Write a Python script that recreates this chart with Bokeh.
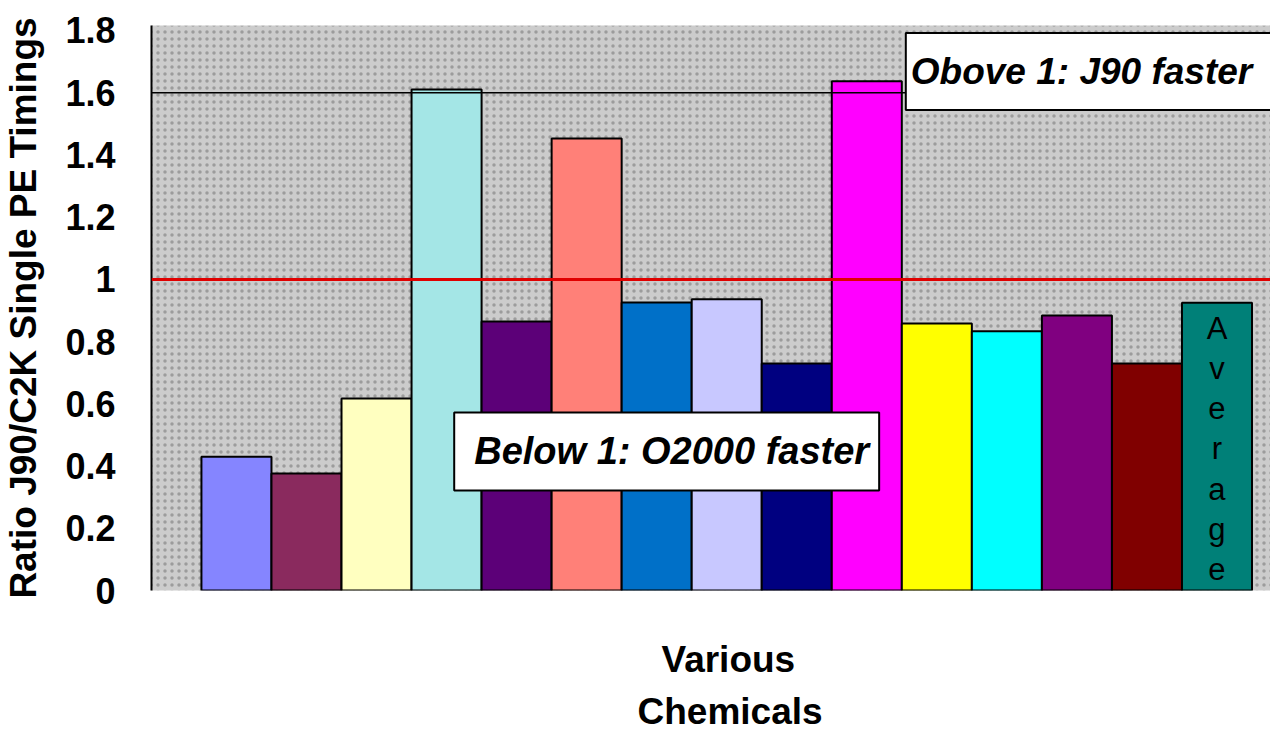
from bokeh.plotting import figure
from bokeh.models import (ColumnDataSource, Span, Label, FixedTicker, Range1d, BoxAnnotation, Title)
from bokeh.core.properties import value
from bokeh.embed import file_html
from bokeh.resources import INLINE

# ---- data ----
chemicals = ["Chemical 1", "Chemical 2", "Chemical 3", "Chemical 4", "Chemical 5",
             "Chemical 6", "Chemical 7", "Chemical 8", "Chemical 9", "Chemical 10",
             "Chemical 11", "Chemical 12", "Chemical 13", "Chemical 14", "Average"]
ratios = [0.43, 0.376, 0.617, 1.61, 0.865, 1.453, 0.926, 0.936, 0.73, 1.637,
          0.858, 0.833, 0.884, 0.73, 0.925]
bar_colors = ["#8585ff", "#8a2a5e", "#ffffc0", "#a4e6e6", "#5c0078", "#ff8078",
              "#0070c8", "#c8c8ff", "#000080", "#ff00ff", "#ffff00", "#00ffff",
              "#800080", "#800000", "#008078"]
y_ticks = [0, 0.2, 0.4, 0.6, 0.8, 1.0, 1.2, 1.4, 1.6, 1.8]
y_tick_labels = ["0", "0.2", "0.4", "0.6", "0.8", "1", "1.2", "1.4", "1.6", "1.8"]
threshold = 1.0
upper_line = 1.6
avg_label = "\n".join("Average")
x_title_lines = ["Various", "Chemicals"]

FONT = "Liberation Sans"

idx = list(range(len(chemicals)))
src = ColumnDataSource(dict(
    x=[i + 0.5 for i in idx],
    top=ratios,
    color=bar_colors,
    name=chemicals,
))

p = figure(width=1270, height=734, output_backend="svg", toolbar_location=None,
           x_range=Range1d(-0.713, 15.264), y_range=Range1d(0, 1.816),
           min_border_left=150, min_border_right=0, min_border_top=25,
           min_border_bottom=144)

p.background_fill_color = "#cccccc"
p.border_fill_color = "white"
p.outline_line_color = None
p.grid.visible = False

# textured background
bg = BoxAnnotation(fill_alpha=0, hatch_pattern="dot", hatch_color="#9c9c9c",
                   hatch_scale=7, hatch_weight=1.2, line_color=None, level="underlay")
p.add_layout(bg)

p.vbar(x="x", top="top", width=1.0, bottom=0, source=src,
       fill_color="color", line_color="black", line_width=2)

# vertical "Average" text in the last bar
p.text(x=[idx[-1] + 0.5], y=[ratios[-1]], text=[avg_label],
       text_align="center", text_baseline="top", y_offset=8,
       text_font=value(FONT), text_font_size="31px", text_color="black",
       text_line_height=1.15)

p.add_layout(Span(location=upper_line, dimension="width", line_color="black", line_width=1.5))
p.add_layout(Span(location=threshold, dimension="width", line_color="#e00000", line_width=3))

# padding given as (left, right, top, bottom)
above = Label(x=10.057, y=1.668, text="Obove 1: J90 faster", text_align="left",
              text_baseline="middle", text_font=FONT, text_font_size="37px",
              text_font_style="bold italic", text_color="black",
              background_fill_color="white", border_line_color="black",
              border_line_width=2, padding=(5, 40, 18, 18))
below = Label(x=3.609, y=0.447, text="Below 1: O2000 faster", text_align="left",
              text_baseline="middle", text_font=FONT, text_font_size="38px",
              text_font_style="bold italic", text_color="black",
              background_fill_color="white", border_line_color="black",
              border_line_width=2, padding=(20, 10, 18, 18))
p.add_layout(above)
p.add_layout(below)

# y axis
ya = p.yaxis[0]
ya.ticker = FixedTicker(ticks=y_ticks)
ya.major_label_overrides = {t: l for t, l in zip(y_ticks, y_tick_labels)}
ya.major_tick_line_color = None
ya.minor_tick_line_color = None
ya.major_label_standoff = 30
ya.axis_line_width = 2
ya.axis_line_color = "black"
ya.major_label_text_font = FONT
ya.major_label_text_font_size = "36px"
ya.major_label_text_font_style = "bold"
ya.major_label_text_color = "black"
ya.axis_label = "Ratio J90/C2K Single PE Timings"
ya.axis_label_text_font = FONT
ya.axis_label_text_font_size = "37px"
ya.axis_label_text_font_style = "bold"
ya.axis_label_text_color = "black"
ya.axis_label_standoff = 18

# x axis: no ticks, no line; its two-line title drawn as titles below
xa = p.xaxis[0]
xa.ticker = FixedTicker(ticks=[])
xa.axis_line_color = None
xa.major_tick_line_color = None
xa.minor_tick_line_color = None
xa.major_label_text_font_size = "0px"

# empty spacer between the frame and the x title
p.add_layout(Title(text=" ", text_font_size="1px", standoff=34), "below")
for line, off, so in zip(x_title_lines, [510, 486], [18, 0]):
    p.add_layout(Title(text=line, align="left", offset=off, text_font=FONT,
                       text_font_size="37px", text_font_style="bold",
                       text_color="black", standoff=so), "below")

open("out.html", "w").write(file_html(p, INLINE))
